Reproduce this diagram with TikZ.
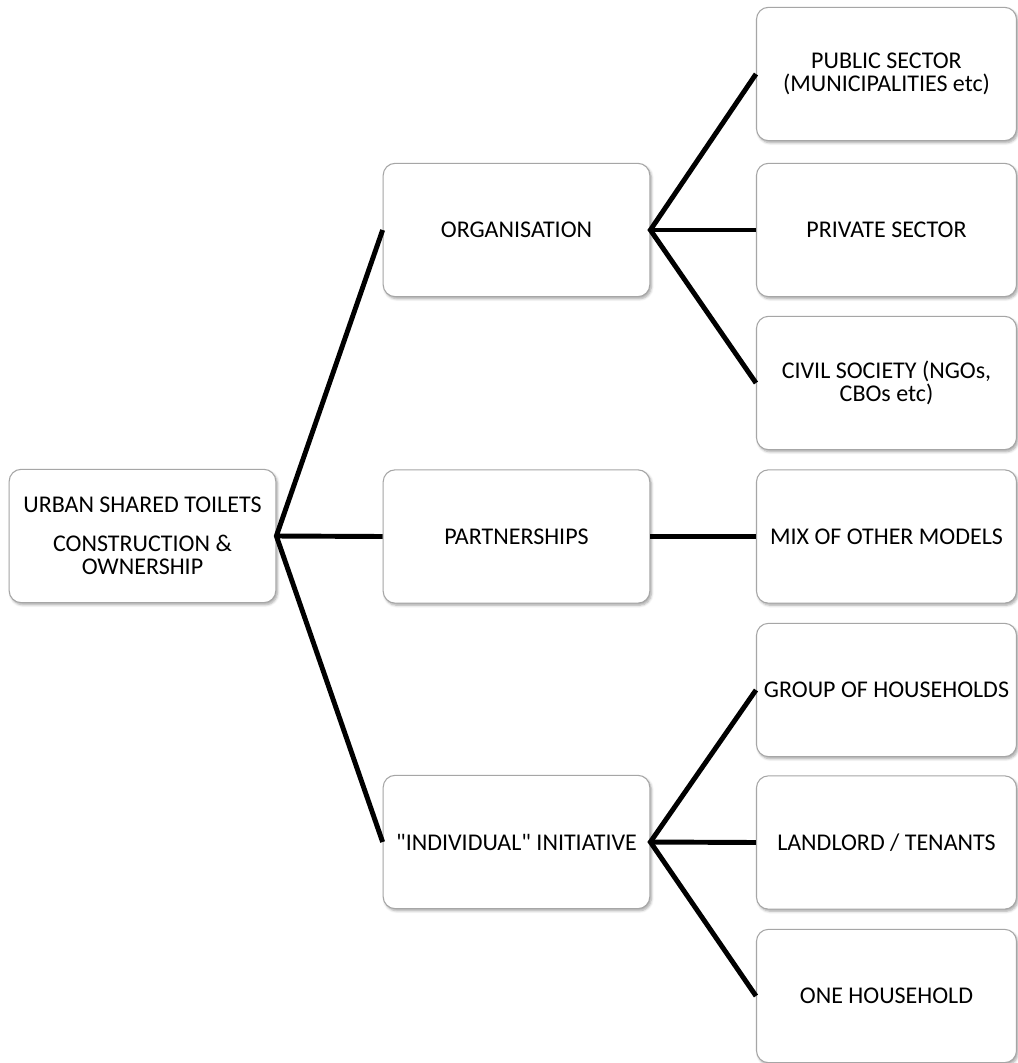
\documentclass[tikz,border=0pt]{standalone}
\usepackage{fontspec}
\setmainfont{Carlito}[Ligatures=TeXOff]
\usetikzlibrary{shadows.blur}
\begin{document}
\begin{tikzpicture}[x=0.75pt,y=-0.75pt,
  card/.style={draw=black!35, line width=0.8pt, fill=white, rounded corners=9pt,
    align=center, inner sep=2pt, font=\fontsize{18}{17.5}\selectfont,
    blur shadow={shadow xshift=1.2pt, shadow yshift=-1.6pt, shadow blur steps=5, shadow opacity=35}},
  wide/.style={card, minimum width=200pt, minimum height=100pt},
  leaf/.style={card, minimum width=195pt, minimum height=100pt},
  link/.style={line width=3.7pt, black}]
\useasboundingbox (0,0) rectangle (1017,1063);

% root
\node[wide] (root) at (142.5,536) {URBAN SHARED TOILETS\\[11.5pt]CONSTRUCTION \&\\OWNERSHIP};

% second level
\node[wide] (org) at (516.5,230) {ORGANISATION};
\node[wide] (part) at (516.5,536.5) {PARTNERSHIPS};
\node[wide] (indiv) at (516.5,842) {"INDIVIDUAL" INITIATIVE};

% third level
\node[leaf] (pub) at (886.5,74) {PUBLIC SECTOR\\(MUNICIPALITIES etc)};
\node[leaf] (priv) at (886.5,230) {PRIVATE SECTOR};
\node[leaf] (civil) at (886.5,383) {CIVIL SOCIETY (NGOs,\\CBOs etc)};
\node[leaf] (mix) at (886.5,536.5) {MIX OF OTHER MODELS};
\node[leaf] (group) at (886.5,690) {GROUP OF HOUSEHOLDS};
\node[leaf] (land) at (886.5,842.5) {LANDLORD / TENANTS};
\node[leaf] (one) at (886.5,996) {ONE HOUSEHOLD};

% connectors
\draw[link] (org.west) -- (root.east) -- (indiv.west);
\draw[link] (root.east) -- (part.west);
\draw[link] (pub.west) -- (org.east) -- (civil.west);
\draw[link] (org.east) -- (priv.west);
\draw[link] (part.east) -- (mix.west);
\draw[link] (group.west) -- (indiv.east) -- (one.west);
\draw[link] (indiv.east) -- (land.west);
\end{tikzpicture}
\end{document}
